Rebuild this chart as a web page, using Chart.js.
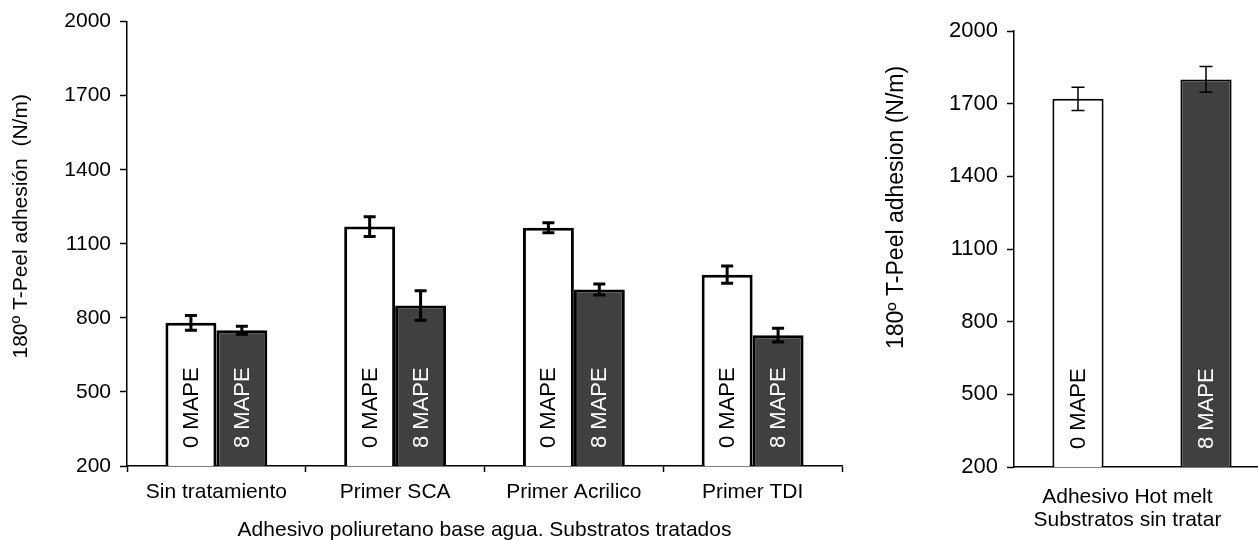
<!DOCTYPE html>
<html>
<head>
<meta charset="utf-8">
<script src="https://cdn.jsdelivr.net/npm/chart.js@4.4.1/dist/chart.umd.min.js"></script>
<style>
  html, body { margin: 0; padding: 0; background: #fff; overflow: hidden; }
  body { width: 1258px; height: 540px; position: relative; }
  .box { position: absolute; top: 0; height: 540px; }
  #left-box { left: 0; width: 880px; }
  #right-box { left: 880px; width: 390px; }
</style>
</head>
<body>
<div class="box" id="left-box"><canvas id="leftChart"></canvas></div>
<div class="box" id="right-box"><canvas id="rightChart"></canvas></div>
<script>
// Waterborne polyurethane adhesive, treated substrates
const categories = ['Sin tratamiento', 'Primer SCA', 'Primer Acrilico', 'Primer TDI'];
const mape0 = [780, 1170, 1165, 975];
const mape0Err = [30, 40, 20, 35];
const mape8 = [750, 850, 915, 730];
const mape8Err = [16, 60, 22, 28];

// Hot melt adhesive, untreated substrates
const hotMeltBars = ['0 MAPE', '8 MAPE'];
const hotMelt = [1720, 1800];
const hotMeltErr = [48, 53];

const yTicks = [200, 500, 800, 1100, 1400, 1700, 2000];

const FONT = "'Liberation Sans', Arial, sans-serif";
const DARK = '#404040';

// error bars with caps
const errorBarPlugin = {
  id: 'errorBars',
  afterDatasetsDraw(chart, args, opts) {
    const { ctx } = chart;
    const y = chart.scales.y;
    chart.data.datasets.forEach((ds, i) => {
      const meta = chart.getDatasetMeta(i);
      if (!ds.errors) return;
      meta.data.forEach((bar, j) => {
        const v = ds.data[j], e = ds.errors[j];
        const top = y.getPixelForValue(v + e);
        const bot = y.getPixelForValue(v - e);
        const half = opts.cap / 2;
        ctx.save();
        ctx.strokeStyle = '#000';
        ctx.lineWidth = opts.width;
        ctx.beginPath();
        ctx.moveTo(bar.x, top); ctx.lineTo(bar.x, bot);
        ctx.moveTo(bar.x - half, top); ctx.lineTo(bar.x + half, top);
        ctx.moveTo(bar.x - half, bot); ctx.lineTo(bar.x + half, bot);
        ctx.stroke();
        ctx.restore();
      });
    });
  }
};

// rotated labels inside the bars
const barTextPlugin = {
  id: 'barText',
  afterDatasetsDraw(chart, args, opts) {
    const { ctx } = chart;
    const bottom = chart.scales.y.getPixelForValue(chart.scales.y.min);
    chart.data.datasets.forEach((ds, i) => {
      const meta = chart.getDatasetMeta(i);
      meta.data.forEach((bar, j) => {
        const text = ds.barText[j];
        const fill = Array.isArray(ds.backgroundColor) ? ds.backgroundColor[j] : ds.backgroundColor;
        ctx.save();
        ctx.translate(bar.x, bottom - 18);
        ctx.rotate(-Math.PI / 2);
        ctx.font = '22px ' + FONT;
        ctx.fillStyle = fill === DARK ? '#fff' : '#000';
        ctx.textAlign = 'left';
        ctx.textBaseline = 'middle';
        ctx.fillText(text, 0, 1);
        ctx.restore();
      });
    });
  }
};

// leading spaces push the rotated title up, like in the original figure
function yAxis(width, titleText, titleSize, titlePad, tickSize) {
  return {
    min: 200,
    max: 2000,
    afterBuildTicks: (s) => { s.ticks = yTicks.map(v => ({ value: v })); },
    afterFit: (s) => { s.width = width; },
    border: { color: '#000', width: 1.5 },
    grid: { drawOnChartArea: false, tickLength: 7, color: '#000', tickWidth: 1.5 },
    ticks: { color: '#000', font: { family: FONT, size: tickSize }, padding: 9, callback: (v) => String(v) },
    title: {
      display: true, text: titleText, color: '#000',
      font: { family: FONT, size: titleSize }, padding: { top: titlePad, bottom: 0 }
    }
  };
}

new Chart(document.getElementById('leftChart'), {
  type: 'bar',
  data: {
    labels: categories,
    datasets: [
      { label: '0 MAPE', data: mape0, errors: mape0Err, barText: categories.map(() => '0 MAPE'),
        backgroundColor: '#ffffff', borderColor: '#000', borderWidth: 3 },
      { label: '8 MAPE', data: mape8, errors: mape8Err, barText: categories.map(() => '8 MAPE'),
        backgroundColor: DARK, borderColor: '#000', borderWidth: 3 }
    ]
  },
  options: {
    responsive: true,
    maintainAspectRatio: false,
    animation: false,
    layout: { padding: { left: 0, right: 38, top: 21, bottom: 0 } },
    datasets: { bar: { categoryPercentage: 0.57, barPercentage: 1.0 } },
    scales: {
      x: {
        afterFit: (s) => { s.height = 74; },
        border: { color: '#000', width: 1.5 },
        grid: { drawOnChartArea: false, tickLength: 6, color: '#000', tickWidth: 1.5 },
        ticks: { color: '#000', font: { family: FONT, size: 21 }, padding: 8 },
        title: {
          display: true, text: 'Adhesivo poliuretano base agua. Substratos tratados', color: '#000',
          font: { family: FONT, size: 21 }, padding: { top: 0, bottom: -3 }
        }
      },
      y: yAxis(127, '      180º T-Peel adhesión  (N/m)', 21, 9, 21)
    },
    plugins: {
      legend: { display: false },
      tooltip: { enabled: false },
      errorBars: { width: 3, cap: 12 }
    }
  },
  plugins: [barTextPlugin, errorBarPlugin]
});

new Chart(document.getElementById('rightChart'), {
  type: 'bar',
  data: {
    labels: hotMeltBars,
    datasets: [
      { label: 'Hot melt', data: hotMelt, errors: hotMeltErr, barText: hotMeltBars,
        backgroundColor: ['#ffffff', DARK], borderColor: '#000', borderWidth: 2 }
    ]
  },
  options: {
    responsive: true,
    maintainAspectRatio: false,
    animation: false,
    layout: { padding: { left: 0, right: 0, top: 31, bottom: 0 } },
    datasets: { bar: { categoryPercentage: 1.0, barPercentage: 0.4 } },
    scales: {
      x: {
        afterFit: (s) => { s.height = 73; },
        border: { color: '#000', width: 1.5 },
        grid: { display: false },
        ticks: { display: false },
        title: {
          display: true, text: ['Adhesivo Hot melt     ', 'Substratos sin tratar     '], color: '#000',
          font: { family: FONT, size: 21, lineHeight: 1.1 }, padding: { top: 0, bottom: 8 }
        }
      },
      y: yAxis(134, '             180º T-Peel adhesion (N/m)', 23, 3, 22)
    },
    plugins: {
      legend: { display: false },
      tooltip: { enabled: false },
      errorBars: { width: 1.5, cap: 13 }
    }
  },
  plugins: [barTextPlugin, errorBarPlugin]
});
</script>
</body>
</html>
